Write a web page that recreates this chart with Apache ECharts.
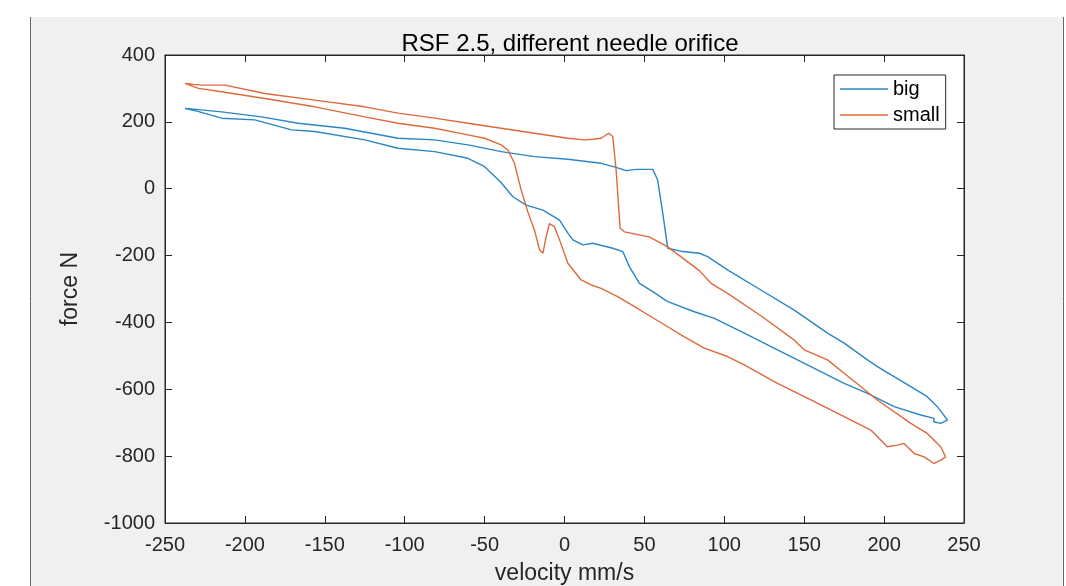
<!DOCTYPE html>
<html>
<head>
<meta charset="utf-8">
<script src="https://cdn.jsdelivr.net/npm/echarts@6/dist/echarts.min.js"></script>
<style>
html,body{margin:0;padding:0;background:#fff;}
#chart{width:1066px;height:586px;}
</style>
</head>
<body>
<div id="chart"></div>
<script>
// ---- data ----
const xTicks = [-250, -200, -150, -100, -50, 0, 50, 100, 150, 200, 250];
const yTicks = [-1000, -800, -600, -400, -200, 0, 200, 400];

const seriesNames = ['big', 'small'];

// "big" loop: velocity (mm/s)
const bigVelocity = [
  -237.5, -232, -214.6, -189.6, -166.7, -137.5, -104.2, -81.3, -60.4, -39.6, -18.8, 2.1, 22.9, 32.3, 38.5, 44.8, 55.2, 58.3, 61.5, 64.6, 74, 84.4,
  89.6, 102, 122.9, 143.8, 164.6, 175, 189.6, 195.8, 216.7, 227, 233.3, 236.5, 239.6, 235.4, 231,
  231.3, 222.9, 206.3, 189.6, 175, 154.2, 133.3, 112.5, 93.8, 81.3, 64.6, 55.2, 46.9, 40.6, 36.5, 30.2, 17.7, 11.5, 5.2, 2.1, -3.1,
  -13.5, -24, -32.3, -40, -50, -60.4, -81.3, -104.2, -125, -156.3, -170.8, -193.8, -214.6, -230, -237.5
];
// "big" loop: force (N)
const bigForce = [
  240, 238, 230, 215, 196, 181, 151, 146, 131, 111, 96, 88, 76, 64, 54, 58, 58, 26, -74, -178, -188, -193,
  -203, -243, -303, -363, -432, -462, -512, -532, -592, -622, -652, -672, -692, -702, -697,
  -687, -677, -652, -612, -582, -532, -482, -432, -388, -368, -338, -308, -283, -233, -188, -178, -163, -168, -153, -133, -94,
  -64, -49, -24, 20, 66, 91, 111, 121, 146, 171, 176, 206, 211, 232, 240
];

// "small" loop: velocity (mm/s)
const smallVelocity = [
  -237.5, -232, -227, -212.5, -187.5, -156.3, -125, -104.2, -81.3, -60.4, -39.6, -18.8, 2.1, 12.5, 17.7, 22.9, 27.7, 30.2, 32.3, 34.8, 37.5, 53, 64.6, 84.4,
  91.7, 102, 122.9, 143.8, 150, 164.6, 175, 195.8, 216.7, 227, 235.4, 238.5, 235.4, 231.3,
  225, 218.8, 212.5, 208.3, 202, 191.7, 175, 154.2, 133.3, 112.5, 102, 87.5, 75, 64.6, 54.2, 43.8, 33.3, 22.9, 16.7, 10.4, 2.1, -3.1, -6.3, -9.4,
  -11.5, -13.5, -15.6, -18.8, -22.9, -27.1, -31.3, -35.4, -39.6, -50, -60.4, -81.3, -104.2, -125, -156.3, -187.5, -214.6, -229, -237.5
];
// "small" loop: force (N)
const smallForce = [
  315, 312, 310, 310, 285, 265, 245, 226, 211, 196, 181, 166, 151, 146, 148, 151, 166, 156, 56, -118, -129, -144, -174, -245,
  -283, -313, -380, -453, -482, -512, -552, -632, -702, -732, -772, -802, -812, -822,
  -802, -792, -762, -767, -772, -722, -682, -632, -582, -527, -502, -477, -443, -413, -383, -353, -323, -298, -288, -273, -223, -153, -114, -104,
  -144, -193, -183, -124, -70, -4, 76, 116, 131, 151, 161, 181, 196, 215, 245, 270, 290, 300, 315
];

// ---- chart ----
const toPairs = (xs, ys) => xs.map((x, i) => [x, ys[i]]);
const axisColor = '#262626';
const font = 'Liberation Sans, Arial, Helvetica, sans-serif';
const colors = ['#2a86c4', '#dc6a3a'];

const chart = echarts.init(document.getElementById('chart'), null, {renderer: 'canvas'});

const baseX = {
  type: 'value', min: xTicks[0], max: xTicks[xTicks.length - 1], interval: xTicks[1] - xTicks[0],
  axisLine: {show: true, onZero: false, lineStyle: {color: axisColor, width: 1}},
  axisTick: {show: true, inside: true, length: 7, lineStyle: {color: axisColor}},
  splitLine: {show: false}
};
const baseY = {
  type: 'value', min: yTicks[0], max: yTicks[yTicks.length - 1], interval: yTicks[1] - yTicks[0],
  axisLine: {show: true, onZero: false, lineStyle: {color: axisColor, width: 1}},
  axisTick: {show: true, inside: true, length: 7, lineStyle: {color: axisColor}},
  splitLine: {show: false}
};

chart.setOption({
  animation: false,
  backgroundColor: '#ffffff',
  graphic: [
    {type: 'rect', z: -100, shape: {x: 31, y: 17, width: 1032, height: 569}, style: {fill: '#f0f0f0'}},
    {type: 'line', z: -99, shape: {x1: 30.5, y1: 17, x2: 30.5, y2: 586}, style: {stroke: '#666', lineWidth: 1}},
    {type: 'line', z: -99, shape: {x1: 1063.5, y1: 17, x2: 1063.5, y2: 586}, style: {stroke: '#666', lineWidth: 1}}
  ],
  title: {
    text: 'RSF 2.5, different needle orifice',
    left: 565, top: 27, textAlign: 'center',
    textStyle: {fontFamily: font, fontSize: 24, fontWeight: 'normal', color: '#000'}
  },
  legend: {
    orient: 'vertical', left: 834, top: 75,
    padding: [4, 6, 4, 6], itemGap: 6, itemWidth: 48, itemHeight: 1.5,
    icon: 'rect',
    backgroundColor: '#ffffff', borderColor: axisColor, borderWidth: 1,
    textStyle: {fontFamily: font, fontSize: 20, color: '#000', lineHeight: 20},
    data: seriesNames
  },
  grid: {
    left: 165, right: 102, top: 55, bottom: 63,
    outerBoundsMode: 'none', containLabel: false,
    show: true, backgroundColor: '#ffffff', borderColor: axisColor, borderWidth: 1
  },
  xAxis: [
    Object.assign({}, baseX, {
      position: 'bottom',
      name: 'velocity mm/s', nameLocation: 'middle', nameGap: 39,
      nameTextStyle: {fontFamily: font, fontSize: 23, color: axisColor},
      axisLabel: {fontFamily: font, fontSize: 20, color: axisColor, margin: 12, formatter: v => String(v)}
    }),
    Object.assign({}, baseX, {position: 'top', axisLabel: {show: false}})
  ],
  yAxis: [
    Object.assign({}, baseY, {
      position: 'left',
      name: 'force N', nameLocation: 'middle', nameGap: 83, nameRotate: 90,
      nameTextStyle: {fontFamily: font, fontSize: 23, color: axisColor},
      axisLabel: {fontFamily: font, fontSize: 20, color: axisColor, margin: 10, formatter: v => String(v)}
    }),
    Object.assign({}, baseY, {position: 'right', axisLabel: {show: false}})
  ],
  series: [
    {
      name: seriesNames[0], type: 'line', xAxisIndex: 0, yAxisIndex: 0,
      showSymbol: false, symbol: 'none', smooth: false,
      lineStyle: {color: colors[0], width: 1.4}, itemStyle: {color: colors[0]},
      data: toPairs(bigVelocity, bigForce)
    },
    {
      name: seriesNames[1], type: 'line', xAxisIndex: 0, yAxisIndex: 0,
      showSymbol: false, symbol: 'none', smooth: false,
      lineStyle: {color: colors[1], width: 1.4}, itemStyle: {color: colors[1]},
      data: toPairs(smallVelocity, smallForce)
    }
  ]
});
</script>
</body>
</html>
